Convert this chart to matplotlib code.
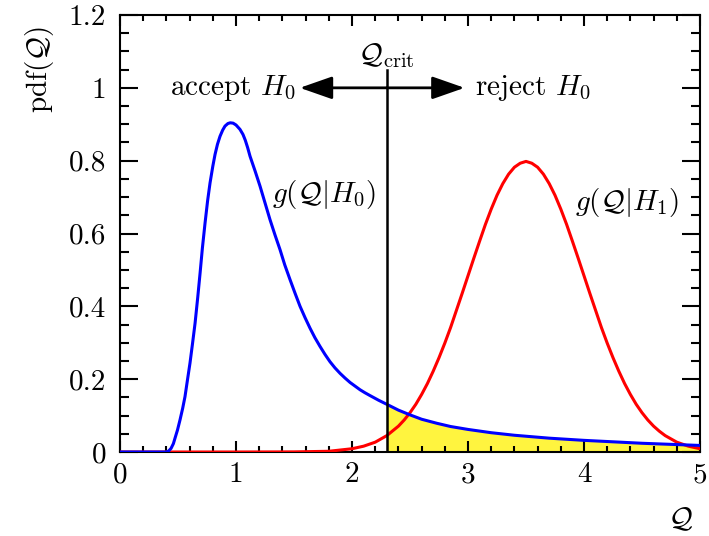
import matplotlib
matplotlib.use("Agg")
import matplotlib.pyplot as plt
import numpy as np

plt.rcParams['font.family'] = 'cmr10'
plt.rcParams['mathtext.fontset'] = 'cm'
plt.rcParams['axes.formatter.use_mathtext'] = True

# curve values
blue_x = [0.0, 0.40, 0.42, 0.44, 0.46, 0.474, 0.495, 0.517, 0.54, 0.56, 0.58, 0.603, 0.625,
          0.647, 0.67, 0.69, 0.71, 0.733, 0.755, 0.776, 0.80, 0.819, 0.84, 0.862, 0.885,
          0.905, 0.93, 0.95, 0.975, 1.0, 1.034, 1.06, 1.08, 1.10, 1.121, 1.165, 1.207,
          1.25, 1.293, 1.336, 1.379, 1.42, 1.466, 1.51, 1.552, 1.595, 1.638, 1.68, 1.724,
          1.767, 1.81, 1.853, 1.897, 1.94, 1.983, 2.026, 2.069, 2.11, 2.155, 2.23, 2.30,
          2.4, 2.5, 2.6, 2.73, 2.85, 3.0, 3.2, 3.4, 3.7, 4.0, 4.25, 4.5, 4.75, 5.0]
blue_y = [0.0, 0.0, 0.003, 0.010, 0.023, 0.038, 0.060, 0.088, 0.120, 0.152, 0.195, 0.244,
          0.298, 0.354, 0.425, 0.491, 0.560, 0.629, 0.690, 0.739, 0.785, 0.817, 0.845,
          0.867, 0.884, 0.895, 0.902, 0.904, 0.903, 0.898, 0.886, 0.872, 0.856, 0.836,
          0.812, 0.771, 0.730, 0.684, 0.638, 0.596, 0.556, 0.514, 0.473, 0.435, 0.400,
          0.369, 0.340, 0.314, 0.290, 0.268, 0.248, 0.231, 0.216, 0.203, 0.191, 0.181,
          0.171, 0.163, 0.155, 0.142, 0.131, 0.115, 0.102, 0.090, 0.079, 0.070, 0.062,
          0.053, 0.046, 0.038, 0.032, 0.028, 0.024, 0.021, 0.018]

red_x = [0.0, 1.0, 1.5, 1.8, 2.0, 2.1, 2.2, 2.3, 2.4, 2.45, 2.5, 2.55, 2.6, 2.65, 2.7,
         2.75, 2.8, 2.85, 2.9, 2.95, 3.0, 3.05, 3.1, 3.15, 3.2, 3.25, 3.3, 3.35, 3.4,
         3.45, 3.5, 3.55, 3.6, 3.65, 3.7, 3.75, 3.8, 3.85, 3.9, 3.95, 4.0, 4.05, 4.1,
         4.15, 4.2, 4.25, 4.3, 4.35, 4.4, 4.45, 4.5, 4.55, 4.6, 4.65, 4.7, 4.8, 4.9, 5.0]
red_y = [0.0, 0.0, 0.0003, 0.002, 0.009, 0.016, 0.027, 0.045, 0.071, 0.088, 0.108,
         0.131, 0.158, 0.188, 0.222, 0.259, 0.299, 0.342, 0.389, 0.436, 0.484, 0.532,
         0.579, 0.625, 0.667, 0.705, 0.737, 0.763, 0.782, 0.793, 0.798, 0.793, 0.782,
         0.763, 0.737, 0.705, 0.667, 0.625, 0.579, 0.532, 0.484, 0.436, 0.389, 0.342,
         0.299, 0.259, 0.222, 0.188, 0.158, 0.131, 0.108, 0.088, 0.071, 0.057, 0.045,
         0.027, 0.016, 0.009]

q_crit = 2.3

x_ticks = [0, 1, 2, 3, 4, 5]
x_labels = ['0', '1', '2', '3', '4', '5']
y_ticks = [0, 0.2, 0.4, 0.6, 0.8, 1.0, 1.2]
y_labels = ['0', '0.2', '0.4', '0.6', '0.8', '1', '1.2']

fs = 21

fig = plt.figure(figsize=(7.09, 5.36), dpi=100)
ax = fig.add_axes([0.1693, 0.1567, 0.818, 0.8153])

bx = np.array(blue_x)
by = np.array(blue_y)
sel = bx >= q_crit
ax.fill_between(bx[sel], 0, by[sel], color='#fff43f', lw=0, zorder=1)

ax.plot(red_x, red_y, color='#ff0000', lw=2.2, zorder=3)
ax.plot(blue_x, blue_y, color='#0000ff', lw=2.2, zorder=4)

# critical value line and arrows
ax.plot([q_crit, q_crit], [0, 1.05], color='k', lw=1.8, zorder=5)
ax.text(q_crit, 1.05, r'$\mathcal{Q}_\mathrm{crit}$', ha='center', va='bottom', fontsize=fs)
arrow = dict(arrowstyle='-|>,head_length=1.0,head_width=0.35', lw=2, color='k',
             shrinkA=0, shrinkB=0, mutation_scale=20)
ax.annotate('', xy=(1.55, 1.0), xytext=(q_crit, 1.0), arrowprops=arrow)
ax.annotate('', xy=(2.97, 1.0), xytext=(q_crit, 1.0), arrowprops=arrow)
ax.text(1.52, 1.0, r'accept $H_0$', ha='right', va='center', fontsize=fs)
ax.text(3.06, 1.0, r'reject $H_0$', ha='left', va='center', fontsize=fs)

ax.text(1.31, 0.707, r'$g(\mathcal{Q}|H_0)$', ha='left', va='center', fontsize=fs)
ax.text(3.92, 0.685, r'$g(\mathcal{Q}|H_1)$', ha='left', va='center', fontsize=fs)

ax.set_xlim(0, 5)
ax.set_ylim(0, 1.2)
ax.set_xticks(x_ticks, x_labels)
ax.set_yticks(y_ticks, y_labels)
ax.set_xticks(np.arange(0, 5.01, 0.2), minor=True)
ax.set_yticks(np.arange(0, 1.201, 0.05), minor=True)
ax.tick_params(which='both', direction='in', top=True, right=True, width=1.5,
               labelsize=fs)
ax.tick_params(axis='x', which='major', length=8, pad=7)
ax.tick_params(axis='x', which='minor', length=4)
ax.tick_params(axis='y', which='major', length=13, pad=10)
ax.tick_params(axis='y', which='minor', length=6.5)
for s in ax.spines.values():
    s.set_linewidth(1.5)

ax.set_xlabel(r'$\mathcal{Q}$', fontsize=fs, va='center')
ax.xaxis.set_label_coords(0.966, -0.155)
ax.set_ylabel(r'$\mathrm{pdf}(\mathcal{Q})$', fontsize=fs, va='center')
ax.yaxis.set_label_coords(-0.138, 0.874)

fig.savefig('out.png', dpi=100)
